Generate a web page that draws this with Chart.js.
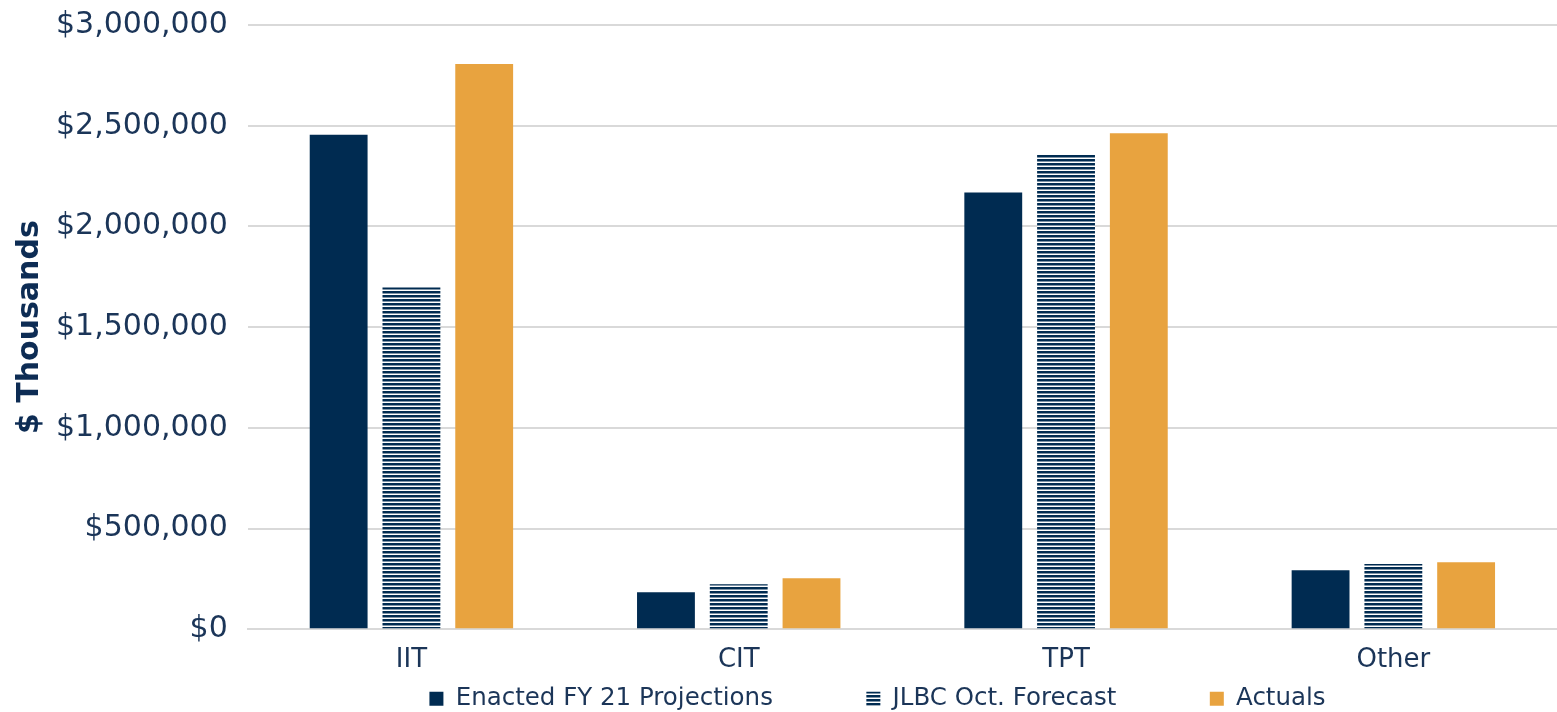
<!DOCTYPE html>
<html>
<head>
<meta charset="utf-8">
<script src="https://cdn.jsdelivr.net/npm/chart.js@4"></script>
<style>
  html, body { margin: 0; padding: 0; background: #fff; overflow: hidden; }
  #wrap { width: 1557px; height: 725px; margin-top: -13px; }
</style>
</head>
<body>
<div id="wrap"><canvas id="revChart"></canvas></div>
<script>
var categories = ['IIT', 'CIT', 'TPT', 'Other']
var enacted = [2455000, 184000, 2169000, 293000]
var jlbc = [1697000, 224000, 2358000, 324000]
var actuals = [2806000, 254000, 2463000, 333000]
var seriesNames = ['Enacted FY 21 Projections', 'JLBC Oct. Forecast', 'Actuals']

var navy = '#002b51'
var orange = '#e8a33f'
var textColor = '#1b3558'
var fontName = '"DejaVu Sans", sans-serif'

// horizontal stripe fill for the forecast series
var tile = document.createElement('canvas')
tile.width = 4
tile.height = 4
var tctx = tile.getContext('2d')
tctx.fillStyle = '#ffffff'
tctx.fillRect(0, 0, 4, 4)
tctx.fillStyle = navy
tctx.fillRect(0, 0, 4, 2.5)
var ctx = document.getElementById('revChart')
var stripes = ctx.getContext('2d').createPattern(tile, 'repeat')

const data = {
  labels: categories,
  datasets: [{
    label: seriesNames[0],
    data: enacted,
    backgroundColor: navy
  }, {
    label: seriesNames[1],
    data: jlbc,
    backgroundColor: stripes
  }, {
    label: seriesNames[2],
    data: actuals,
    backgroundColor: orange
  }]
}

// wider gaps between legend entries without making the legend tall
var gap = '            '

// legend sits a bit right of the canvas centre in the original
const shiftLegend = {
  id: 'shiftLegend',
  afterLayout: function(chart) {
    chart.legend.left += 93
    chart.legend.right += 93
  }
}

new Chart(ctx, {
  type: 'bar',
  data: data,
  plugins: [shiftLegend],
  options: {
    responsive: true,
    maintainAspectRatio: false,
    animation: false,
    categoryPercentage: 0.667,
    barPercentage: 0.795,
    layout: { padding: { top: -2, right: 0, left: 12, bottom: -9 } },
    plugins: {
      legend: {
        position: 'bottom',
        labels: {
          color: textColor,
          font: { family: fontName, size: 24.5 },
          boxWidth: 14,
          boxHeight: 14,
          padding: 0,
          generateLabels: function(chart) {
            var items = Chart.defaults.plugins.legend.labels.generateLabels(chart)
            items.forEach(function(it, i) {
              if (i < items.length - 1) it.text = it.text + gap
            })
            return items
          }
        }
      },
      tooltip: { enabled: false }
    },
    scales: {
      x: {
        grid: { display: false },
        border: { color: '#d9d9d9', width: 2 },
        ticks: { color: textColor, font: { family: fontName, size: 26 }, padding: 7 },
        afterFit: function(scale) { scale.height += 4 }
      },
      y: {
        min: 0,
        max: 3000000,
        ticks: {
          stepSize: 500000,
          color: textColor,
          font: { family: fontName, size: 30 },
          padding: 20,
          callback: function(v) { return '$' + v.toLocaleString('en-US') }
        },
        grid: { color: '#d9d9d9', lineWidth: 2, drawTicks: false },
        border: { display: false },
        title: {
          display: true,
          text: '$ Thousands',
          color: '#0d2c54',
          font: { family: fontName, size: 30, weight: 'bold' },
          padding: { top: 0, bottom: -12 }
        }
      }
    }
  }
})
</script>
</body>
</html>
